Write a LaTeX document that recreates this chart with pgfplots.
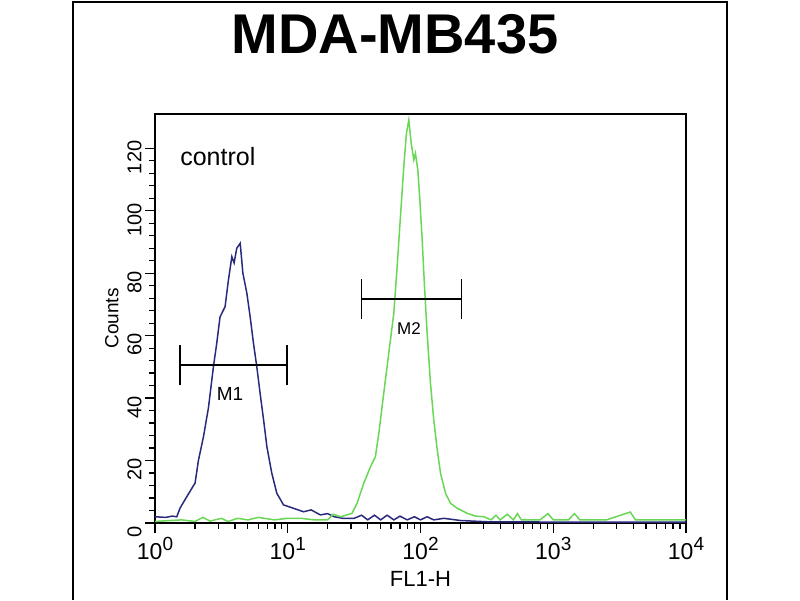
\documentclass[border=0pt]{standalone}
\usepackage{pgfplots}
\pgfplotsset{compat=1.18}
\usepackage{fontspec}
\setmainfont{Liberation Sans}
\definecolor{cblue}{RGB}{42,42,125}
\definecolor{cgreen}{RGB}{105,215,85}
\newcommand\tp[1]{10\raisebox{9pt}{\fontsize{19pt}{19pt}\selectfont #1}}
\begin{document}
\begin{tikzpicture}[x=1pt,y=1pt]
\useasboundingbox (0,0) rectangle (800,600);
\draw[line width=2pt] (73,0) -- (73,598) -- (727,598) -- (727,0);
\node[font=\fontsize{56pt}{56pt}\selectfont\bfseries] at (395,566) {MDA-MB435};
\begin{axis}[
  at={(155pt,77pt)}, anchor=south west,
  scale only axis, width=531pt, height=409pt,
  xmode=log, xmin=1, xmax=10000, ymin=0, ymax=131,
  axis line style={line width=1.6pt},
  tick align=outside, xtick pos=bottom, ytick pos=left,
  major tick length=10pt, minor tick length=6pt,
  every tick/.style={black, line width=1.3pt},
  xtick={1,10,100,1000,10000},
  xticklabels={\tp{0},\tp{1},\tp{2},\tp{3},\tp{4}},
  ytick={0,20,40,60,80,100,120}, minor y tick num=4,
  /pgf/number format/assume math mode=true,
  xticklabel style={font=\fontsize{23pt}{23pt}\selectfont, yshift=-1pt},
  yticklabel style={font=\fontsize{20pt}{20pt}\selectfont, rotate=90, anchor=south, xshift=-9pt},
  xlabel={FL1-H}, ylabel={Counts},
  xlabel style={font=\fontsize{22pt}{22pt}\selectfont, yshift=-4pt},
  ylabel style={font=\fontsize{19pt}{19pt}\selectfont, yshift=2pt},
  clip=false,
]
% blue (control) histogram
\addplot[cblue, line width=1.5pt] coordinates {
(1.0,2) (1.2,1.8) (1.35,2.2) (1.459,2) (1.545,4.8) (1.734,8.4) (2.004,12.8) (2.123,20)
(2.317,27.6) (2.529,37) (2.754,50) (2.917,57.5) (3.090,66) (3.373,69.3) (3.573,77.8)
(3.793,85.3) (3.945,83.3) (4.130,88) (4.385,89.6) (4.592,80) (4.920,73.6) (5.212,66)
(5.521,57.5) (5.848,50) (6.194,41.5) (6.577,33) (6.966,24.4) (7.586,15.9) (8.279,9.5)
(9.290,5.8) (11.07,4.7) (13.15,3.6) (15.0,4.2) (17.58,2.6) (20.0,3) (22.4,2) (26.0,1.5)
(31.6,1.5) (36.0,2.5) (40.0,1) (45.0,2.5) (50.1,1) (56.0,2.5) (63.0,1) (70.0,2.2)
(79.4,1) (90.0,2) (100,1) (112,2) (126,1) (150,1.5) (200,0.8) (250,0.6) (316,0.4)
(1000,0.3) (10000,0.3)
};
% green (sample) histogram
\addplot[cgreen, line width=1.5pt] coordinates {
(1.0,0.5) (1.585,1) (2.0,0.5) (2.3,1.8) (2.6,0.6) (3.162,1.5) (3.548,0.5) (4.2,1.5)
(5.012,1) (6.0,1.8) (7.943,1) (10.0,1.5) (12.59,1.5) (15.8,1) (19.95,1) (22.0,2.8)
(25.12,2) (30.48,3.1) (33.27,6.3) (37.33,12.7) (41.98,18) (45.71,21.2) (48.53,28.7)
(52.84,41.5) (57.68,54.4) (62.95,67.2) (66.68,82.1) (70.63,98.1) (74.82,114.1)
(78.34,124.8) (81.66,129.1) (85.11,121.6) (89.13,116.3) (91.62,118.4) (95.50,113)
(98.86,103.5) (103.0,90.6) (107.2,75.7) (112.2,60.8) (118.9,44.7) (125.9,33)
(133.7,23.4) (141.6,15.9) (154.5,9.5) (168.3,6.3) (189.2,4.7) (224.9,3.1) (260,2.2)
(300.6,2) (340,1) (370,2.5) (398.1,1) (450,2.8) (501.2,1) (537.0,3) (575.4,1)
(700,1) (794.3,1) (912.0,3) (1000,1) (1300,1) (1445,3) (1585,1) (2512,1)
(3802,3.5) (4169,1) (10000,1)
};
% markers M1, M2
\addplot[black, line width=1.5pt] coordinates {(1.545,50.6) (9.9,50.6)};
\addplot[black, line width=1.5pt] coordinates {(1.545,44.2) (1.545,57)};
\addplot[black, line width=1.5pt] coordinates {(9.9,44.2) (9.9,57)};
\addplot[black, line width=1.5pt] coordinates {(35.9,71.7) (203.8,71.7)};
\addplot[black, line width=1.5pt] coordinates {(35.9,65.3) (35.9,78.1)};
\addplot[black, line width=1.5pt] coordinates {(203.8,65.3) (203.8,78.1)};
\node[font=\fontsize{19pt}{19pt}\selectfont] at (axis cs:3.68,41.2) {M1};
\node[font=\fontsize{17pt}{17pt}\selectfont] at (axis cs:81.9,62.3) {M2};
\node[font=\fontsize{25pt}{25pt}\selectfont, anchor=base west] at (rel axis cs:0.041,0.875) {control};
\end{axis}
\end{tikzpicture}
\end{document}
